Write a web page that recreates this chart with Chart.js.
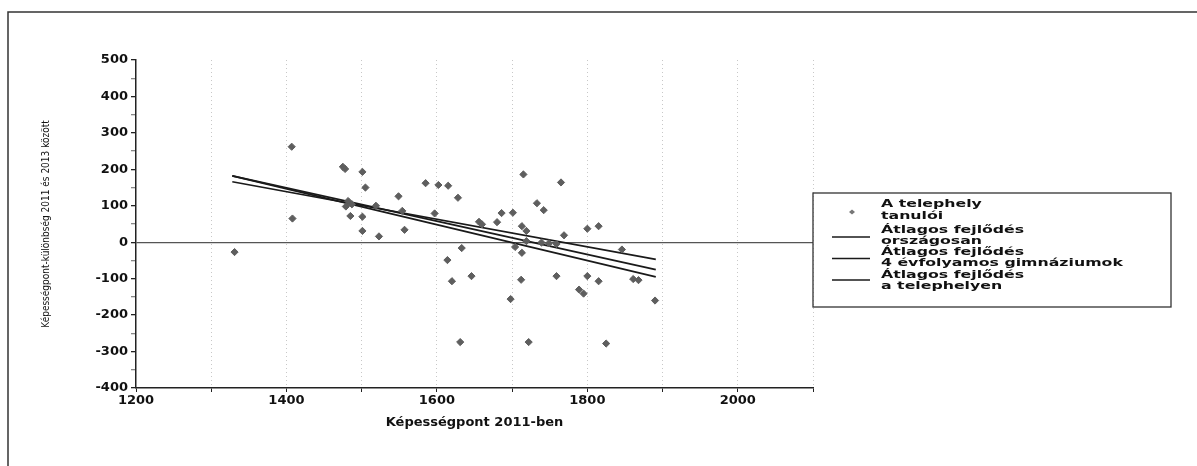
<!DOCTYPE html>
<html>
<head>
<meta charset="utf-8">
<script src="https://cdn.jsdelivr.net/npm/chart.js@4.4.0/dist/chart.umd.min.js"></script>
<style>
html, body { margin: 0; padding: 0; background: #fff; }
#wrap { position: relative; width: 1197px; height: 466px; }
</style>
</head>
<body>
<div id="wrap"><canvas id="scatterChart"></canvas></div>
<script>
// scatter: student points (score 2011, change 2011->2013)
const pointX = [1331,1407,1408,1475,1478,1501,1505,1549,1482,1487,1479,1519,1554,1485,1501,1501,1523,1557,
  1585,1602,1615,1628,1715,1765,1597,1733,1742,1686,1701,1656,1660,1680,1713,1719,1769,1800,1815,
  1633,1719,1739,1749,1759,1704,1713,1614,1620,1646,1712,1759,1800,1815,1789,1795,1698,1631,1722,
  1846,1861,1868,1890,1825];
const pointY = [-27,262,65,207,201,193,150,126,113,104,98,100,86,72,70,31,16,34,
  162,157,155,122,186,164,79,107,88,80,81,56,49,55,44,31,19,37,44,
  -16,3,-1,-3,-5,-13,-29,-49,-107,-93,-103,-93,-93,-107,-130,-141,-156,-274,-274,
  -20,-101,-104,-160,-278];

// trend lines (start/end)
const lineX = [1328, 1891];
const lineNational = [166, -47];
const lineGymnasium = [182, -75];
const lineSite = [182, -95];

const legendLabels = [
  ['A telephely', 'tanulói'],
  ['Átlagos fejlődés', 'országosan'],
  ['Átlagos fejlődés', '4 évfolyamos gimnáziumok'],
  ['Átlagos fejlődés', 'a telephelyen']
];

const xTicks = [1200, 1400, 1600, 1800, 2000];

function pairs(ys) {
  return lineX.map((x, i) => ({x: x, y: ys[i]}));
}

const tickFont = {family: 'DejaVu Sans', size: 13, weight: 'bold'};

const framePlugin = {
  id: 'frame',
  beforeDraw(chart) {
    const ctx = chart.ctx;
    ctx.save();
    ctx.strokeStyle = '#333';
    ctx.lineWidth = 1.5;
    ctx.beginPath();
    ctx.moveTo(8, 466);
    ctx.lineTo(8, 12);
    ctx.lineTo(1197, 12);
    ctx.stroke();
    ctx.restore();
  }
};

const boxLegend = {
  id: 'boxLegend',
  afterDraw(chart) {
    const ctx = chart.ctx;
    const left = chart.chartArea.right;
    ctx.save();
    ctx.strokeStyle = '#333';
    ctx.lineWidth = 1.3;
    ctx.strokeRect(left, 193, 358, 114);
    const rows = [[204.5, 215.8], [230, 241], [252.5, 263.5], [275, 286.5]];
    const symY = [212, 237, 258.5, 280];
    chart.data.datasets.forEach((ds, i) => {
      if (i === 0) {
        ctx.fillStyle = '#777';
        ctx.beginPath();
        ctx.moveTo(left + 39, symY[i] - 2.5);
        ctx.lineTo(left + 42, symY[i]);
        ctx.lineTo(left + 39, symY[i] + 2.5);
        ctx.lineTo(left + 36, symY[i]);
        ctx.closePath();
        ctx.fill();
      } else {
        ctx.strokeStyle = ds.borderColor;
        ctx.lineWidth = 1.6;
        ctx.beginPath();
        ctx.moveTo(left + 19, symY[i]);
        ctx.lineTo(left + 57, symY[i]);
        ctx.stroke();
      }
      ctx.fillStyle = '#111';
      ctx.font = 'bold 10.5px "DejaVu Sans"';
      ctx.textBaseline = 'middle';
      legendLabels[i].forEach((txt, j) => {
        ctx.save();
        ctx.translate(left + 68, rows[i][j]);
        ctx.scale(1.5, 1);
        ctx.fillText(txt, 0, 0);
        ctx.restore();
      });
    });
    ctx.restore();
  }
};

new Chart(document.getElementById('scatterChart'), {
  type: 'scatter',
  data: {
    datasets: [
      {
        label: legendLabels[0].join(' '),
        data: pointX.map((x, i) => ({x: x, y: pointY[i]})),
        pointStyle: 'rectRot',
        pointRadius: 3.6,
        backgroundColor: '#5e5e5e',
        borderColor: '#5e5e5e',
        borderWidth: 1
      },
      {
        type: 'line',
        label: legendLabels[1].join(' '),
        data: pairs(lineNational),
        borderColor: '#1a1a1a',
        borderWidth: 1.7,
        pointRadius: 0
      },
      {
        type: 'line',
        label: legendLabels[2].join(' '),
        data: pairs(lineGymnasium),
        borderColor: '#1a1a1a',
        borderWidth: 1.7,
        pointRadius: 0
      },
      {
        type: 'line',
        label: legendLabels[3].join(' '),
        data: pairs(lineSite),
        borderColor: '#1a1a1a',
        borderWidth: 1.7,
        pointRadius: 0
      }
    ]
  },
  options: {
    responsive: true,
    maintainAspectRatio: false,
    animation: false,
    layout: {padding: {left: 38, right: 384, top: 60, bottom: 36}},
    plugins: {legend: {display: false}, tooltip: {enabled: false}},
    scales: {
      x: {
        type: 'linear',
        min: 1200,
        max: 2100,
        afterFit(scale) { scale.height = 42; },
        ticks: {
          stepSize: 100,
          autoSkip: false,
          maxRotation: 0,
          padding: 1,
          color: '#111',
          font: tickFont,
          callback: v => xTicks.includes(v) ? String(v) : ''
        },
        grid: {
          color: ctx => ctx.tick && ctx.tick.value === 1200 ? 'rgba(0,0,0,0)' : '#c8c8c8',
          tickColor: '#222',
          tickLength: 4,
          tickBorderDash: []
        },
        border: {color: '#222', width: 1.5, dash: [1, 3]},
        title: {
          display: true,
          text: 'Képességpont 2011-ben',
          color: '#111',
          font: {family: 'DejaVu Sans', size: 13, weight: 'bold'},
          padding: {top: 3, bottom: 0}
        }
      },
      y: {
        min: -400,
        max: 500,
        afterFit(scale) { scale.width = 98; },
        ticks: {
          stepSize: 50,
          autoSkip: false,
          padding: 3,
          color: '#111',
          font: tickFont,
          callback: v => v % 100 === 0 ? String(v) : ''
        },
        grid: {
          color: ctx => ctx.tick && ctx.tick.value === 0 ? '#555' : 'rgba(0,0,0,0)',
          lineWidth: 1.3,
          tickColor: ctx => ctx.tick && ctx.tick.value % 100 === 0 ? '#222' : '#888',
          tickLength: 5
        },
        border: {color: '#222', width: 1.5},
        title: {
          display: true,
          text: 'Képességpont-különbség 2011 és 2013 között',
          color: '#111',
          font: {family: "'Liberation Sans Narrow', 'DejaVu Sans Condensed', sans-serif", size: 10},
          padding: {top: 2, bottom: 0}
        }
      }
    }
  },
  plugins: [framePlugin, boxLegend]
});
</script>
</body>
</html>
